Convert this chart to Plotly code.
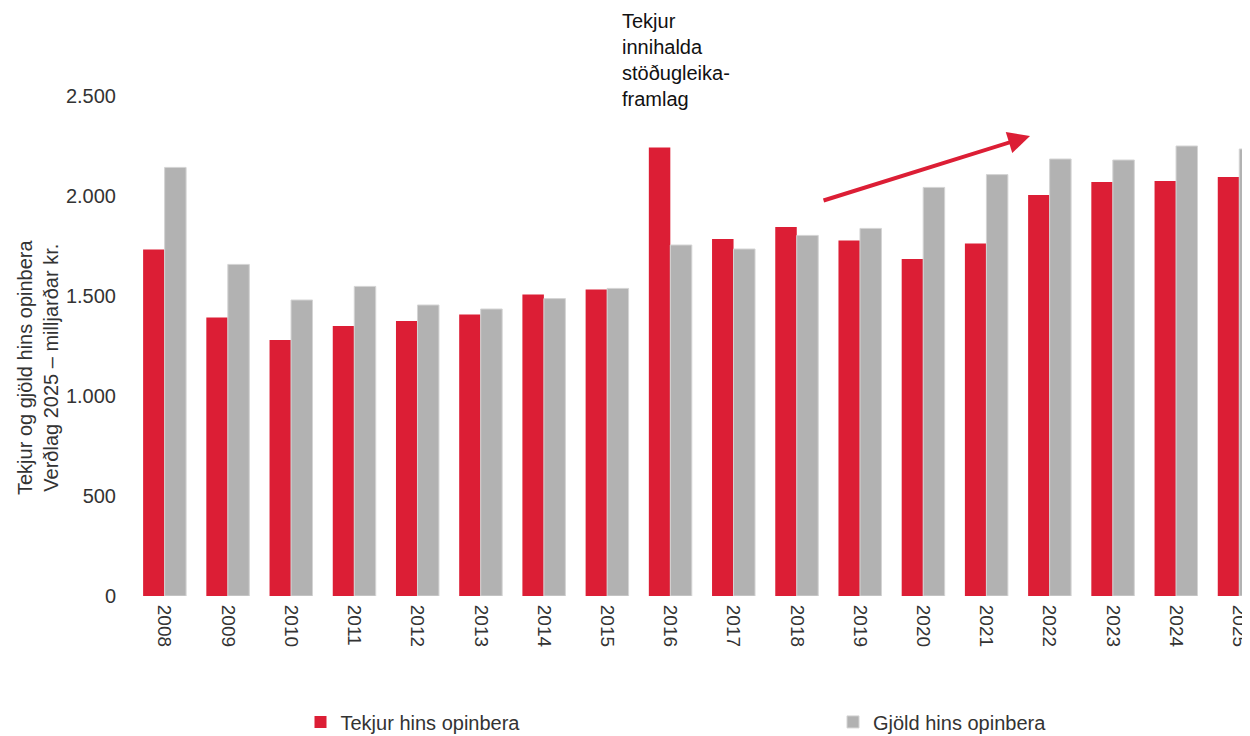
import plotly.graph_objects as go

years = ["2008", "2009", "2010", "2011", "2012", "2013", "2014", "2015", "2016",
         "2017", "2018", "2019", "2020", "2021", "2022", "2023", "2024", "2025"]
tekjur = [1733, 1392, 1280, 1350, 1375, 1408, 1507, 1533, 2243,
          1785, 1845, 1778, 1685, 1762, 2005, 2070, 2075, 2095]
gjold = [2143, 1658, 1480, 1548, 1455, 1435, 1487, 1538, 1755,
         1735, 1803, 1838, 2043, 2107, 2185, 2180, 2250, 2235]
y_ticks = [0, 500, 1000, 1500, 2000, 2500]

RED = "#DC1E35"
GRAY = "#B2B2B2"
FONT = "Liberation Sans, Arial, sans-serif"
TXT = "#333333"

# page body has an 8px offset; layout compensates
ML, MT, MR = 125, 88, 8
PW, PH = 1250 - ML - MR, 500

fig = go.Figure()
fig.add_trace(go.Bar(x=list(range(len(years))), y=tekjur, name="Tekjur hins opinbera",
                     marker=dict(color=RED, line=dict(width=0)), legend="legend"))
fig.add_trace(go.Bar(x=list(range(len(years))), y=gjold, name="Gjöld hins opinbera",
                     marker=dict(color=GRAY, line=dict(width=1, color="#D4D4D4")),
                     legend="legend2"))

leg_common = dict(orientation="h", xref="container", yref="container",
                  xanchor="left", yanchor="middle", itemwidth=30,
                  font=dict(family=FONT, size=20, color=TXT), bgcolor="rgba(0,0,0,0)")

fig.update_layout(
    width=1250, height=736,
    margin=dict(l=ML, r=MR, t=MT, b=736 - MT - PH),
    paper_bgcolor="white", plot_bgcolor="white",
    barmode="group", bargap=0.32, bargroupgap=0,
    separators=",.",
    font=dict(family=FONT, size=20, color=TXT),
    showlegend=True,
    legend=dict(x=0.234, y=0.030, **leg_common),
    legend2=dict(x=0.660, y=0.030, **leg_common),
    xaxis=dict(tickmode="array", tickvals=list(range(len(years))), ticktext=years,
               range=[-0.5, 17.17], tickangle=90, showgrid=False, showline=False,
               zeroline=False, ticks="outside", ticklen=4, tickcolor="rgba(0,0,0,0)",
               tickfont=dict(family=FONT, size=19, color=TXT), automargin=False),
    yaxis=dict(range=[0, 2500], tickvals=y_ticks, tickformat=",d", showgrid=False,
               showline=False, zeroline=False, ticks="outside", ticklen=12,
               tickcolor="rgba(0,0,0,0)", tickfont=dict(family=FONT, size=20, color=TXT),
               automargin=False),
)

fig.add_annotation(
    text="Tekjur og gjöld hins opinbera<br>Verðlag 2025 – milljarðar kr.",
    xref="paper", yref="paper", x=(30 - ML) / PW, y=(MT + PH - 360) / PH,
    xanchor="center", yanchor="middle", textangle=-90, showarrow=False,
    font=dict(family=FONT, size=20, color=TXT), align="center",
)

fig.add_annotation(
    text="Tekjur<br>innihalda<br>stöðugleika-<br>framlag",
    xref="paper", yref="paper", x=(612 - ML) / PW, y=(MT + PH - 0) / PH,
    xanchor="left", yanchor="top", showarrow=False, align="left",
    font=dict(family=FONT, size=20, color="#111111"),
)

fig.add_annotation(
    x=13.69, y=2300, ax=10.40, ay=1975, xref="x", yref="y", axref="x", ayref="y",
    showarrow=True, arrowhead=2, arrowsize=1.1, arrowwidth=4, arrowcolor=RED, text="",
)

fig.write_html("out.html")
